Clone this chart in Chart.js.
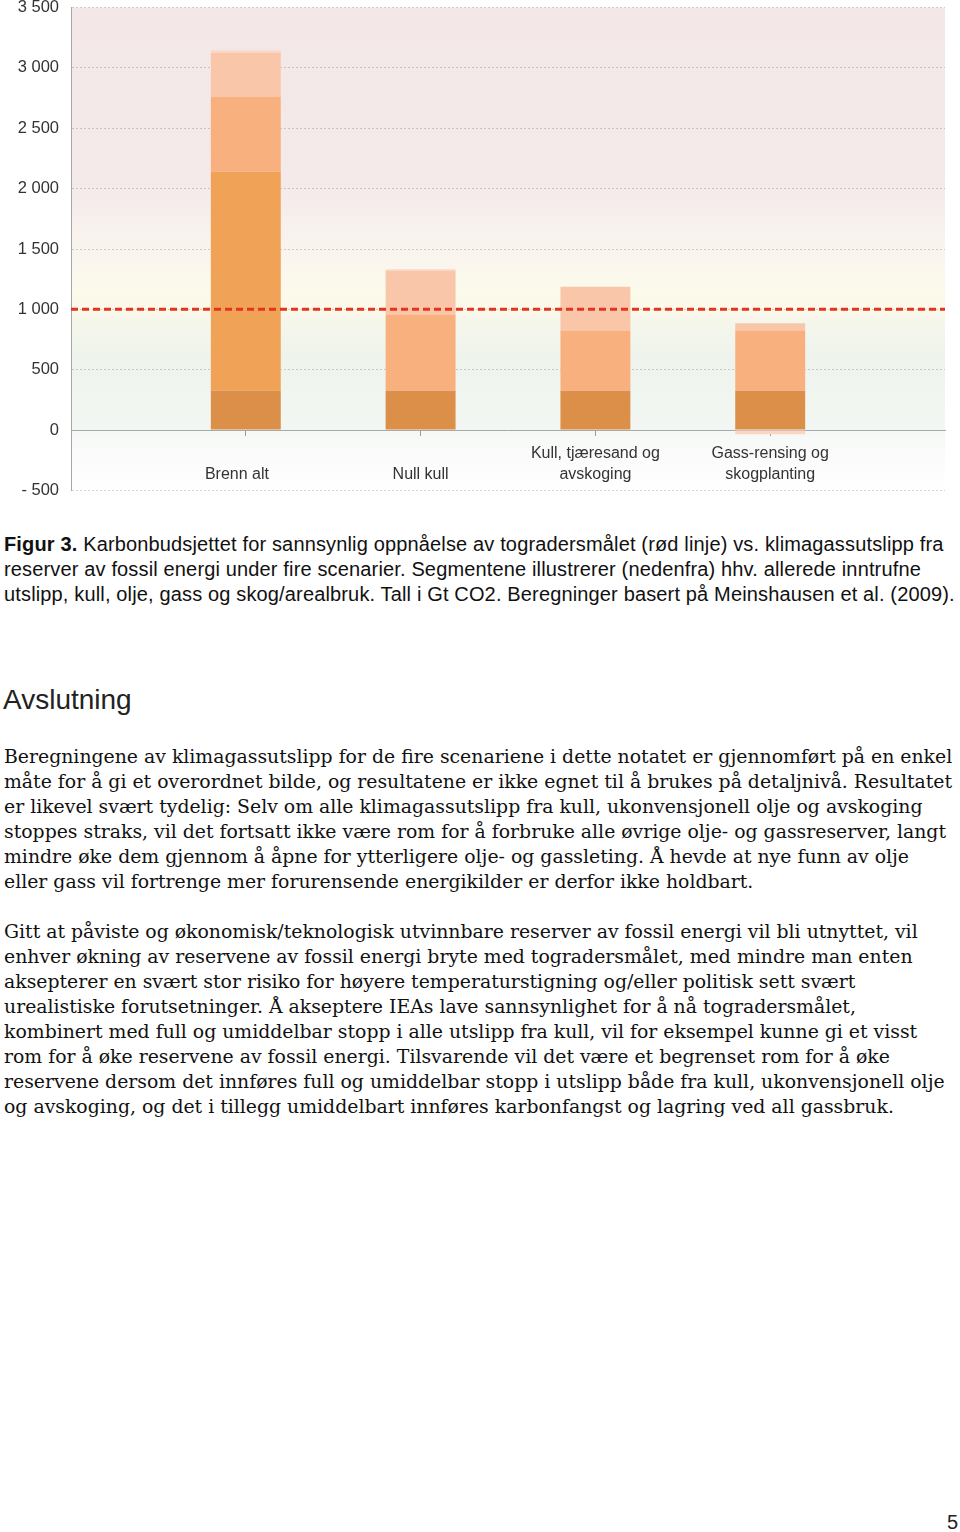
<!DOCTYPE html>
<html>
<head>
<meta charset="utf-8">
<script src="https://cdn.jsdelivr.net/npm/chart.js@4.4.1/dist/chart.umd.min.js"></script>
<style>
  body { margin: 0; background: #fff; width: 960px; height: 1532px; position: relative; overflow: hidden; }
  #chartBox { position: absolute; left: 0; top: -11px; width: 960px; height: 520px; }
  .caption { position: absolute; left: 4px; top: 532px; font: 20px/25px "Liberation Sans", Arial, sans-serif; letter-spacing: 0.15px; color: #111; white-space: nowrap; }
  .caption b { font-weight: bold; }
  h2 { position: absolute; left: 3px; top: 682px; margin: 0; font: 300 28px/36px "Liberation Sans", Arial, sans-serif; color: #222; }
  .body { position: absolute; left: 4px; font: 18.85px/25px "DejaVu Serif", Georgia, serif; color: #111; white-space: nowrap; }
  .page { position: absolute; right: 2px; top: 1511px; font: 20px "Liberation Sans", Arial, sans-serif; color: #222; }
</style>
</head>
<body>
<div id="chartBox"><canvas id="budgetChart"></canvas></div>

<div class="caption">
  <div><b>Figur 3.</b> Karbonbudsjettet for sannsynlig oppnåelse av togradersmålet (rød linje) vs. klimagassutslipp fra</div>
  <div>reserver av fossil energi under fire scenarier. Segmentene illustrerer (nedenfra) hhv. allerede inntrufne</div>
  <div>utslipp, kull, olje, gass og skog/arealbruk. Tall i Gt CO2. Beregninger basert på Meinshausen et al. (2009).</div>
</div>

<h2>Avslutning</h2>

<div class="body" style="top:744px">
  <div>Beregningene av klimagassutslipp for de fire scenariene i dette notatet er gjennomført på en enkel</div>
  <div>måte for å gi et overordnet bilde, og resultatene er ikke egnet til å brukes på detaljnivå. Resultatet</div>
  <div>er likevel svært tydelig: Selv om alle klimagassutslipp fra kull, ukonvensjonell olje og avskoging</div>
  <div>stoppes straks, vil det fortsatt ikke være rom for å forbruke alle øvrige olje- og gassreserver, langt</div>
  <div>mindre øke dem gjennom å åpne for ytterligere olje- og gassleting. Å hevde at nye funn av olje</div>
  <div>eller gass vil fortrenge mer forurensende energikilder er derfor ikke holdbart.</div>
</div>

<div class="body" style="top:919px">
  <div>Gitt at påviste og økonomisk/teknologisk utvinnbare reserver av fossil energi vil bli utnyttet, vil</div>
  <div>enhver økning av reservene av fossil energi bryte med togradersmålet, med mindre man enten</div>
  <div>aksepterer en svært stor risiko for høyere temperaturstigning og/eller politisk sett svært</div>
  <div>urealistiske forutsetninger. Å akseptere IEAs lave sannsynlighet for å nå togradersmålet,</div>
  <div>kombinert med full og umiddelbar stopp i alle utslipp fra kull, vil for eksempel kunne gi et visst</div>
  <div>rom for å øke reservene av fossil energi. Tilsvarende vil det være et begrenset rom for å øke</div>
  <div>reservene dersom det innføres full og umiddelbar stopp i utslipp både fra kull, ukonvensjonell olje</div>
  <div>og avskoging, og det i tillegg umiddelbart innføres karbonfangst og lagring ved all gassbruk.</div>
</div>

<div class="page">5</div>

<script>
// scenarios (empty slots at both ends so the bars sit at 1..4 of 0..5)
const scenarios = [
    '',
    ['', 'Brenn alt    '],
    ['', 'Null kull'],
    ['Kull, tjæresand og', 'avskoging'],
    ['Gass-rensing og', 'skogplanting'],
    ''
];

// Gt CO2, segments from the bottom up
const pastEmissions = [null, 326, 326, 326, 326, null];
const coal = [null, 1815, 0, 0, 0, null];
const oil = [null, 620, 628, 498, 498, null];
const gas = [null, 363, 363, 364, 60, null];
const forestLand = [null, 20, 15, 0, -35, null];

// carbon budget (red line)
const budget = [1000, 1000, 1000, 1000, 1000, 1000];

const yTicks = [-500, 0, 500, 1000, 1500, 2000, 2500, 3000, 3500];

function formatTick(v) {
    const s = String(Math.abs(v)).replace(/\B(?=(\d{3})+(?!\d))/g, ' ');
    return v < 0 ? '- ' + s : s;
}

const plotBackground = {
    id: 'plotBackground',
    beforeDraw(chart) {
        const { ctx, chartArea: a, scales: { y } } = chart;
        const zeroY = y.getPixelForValue(0);
        const g = ctx.createLinearGradient(0, a.top, 0, zeroY);
        g.addColorStop(0, '#f3e7e7');
        g.addColorStop(0.42, '#f4eaea');
        g.addColorStop(0.6, '#faf6ef');
        g.addColorStop(0.68, '#fcfaea');
        g.addColorStop(0.82, '#eef3ec');
        g.addColorStop(1, '#f3f7f3');
        ctx.save();
        ctx.fillStyle = g;
        ctx.fillRect(a.left, a.top, a.right - a.left, zeroY - a.top);
        const g2 = ctx.createLinearGradient(0, zeroY, 0, a.bottom);
        g2.addColorStop(0, '#f6f8f6');
        g2.addColorStop(1, '#ffffff');
        ctx.fillStyle = g2;
        ctx.fillRect(a.left, zeroY, a.right - a.left, a.bottom - zeroY);
        ctx.restore();
    }
};

document.addEventListener('DOMContentLoaded', function () {
    const ctx = document.getElementById('budgetChart');
    new Chart(ctx, {
        type: 'bar',
        data: {
            labels: scenarios,
            datasets: [
                {
                    type: 'line',
                    label: 'Karbonbudsjett',
                    data: budget,
                    borderColor: '#e5341d',
                    borderWidth: 3,
                    borderDash: [7, 4],
                    pointRadius: 0,
                    stack: 'budget',
                    order: 0
                },
                { label: 'Allerede inntrufne utslipp', data: pastEmissions, backgroundColor: '#db8f49', stack: 's', order: 1 },
                { label: 'Kull', data: coal, backgroundColor: '#f0a256', stack: 's', order: 1 },
                { label: 'Olje', data: oil, backgroundColor: '#f9b07f', stack: 's', order: 1 },
                { label: 'Gass', data: gas, backgroundColor: '#f9c6a9', stack: 's', order: 1 },
                { label: 'Skog/arealbruk', data: forestLand, backgroundColor: '#fbd6c4', stack: 's', order: 1 }
            ]
        },
        options: {
            responsive: true,
            maintainAspectRatio: false,
            animation: false,
            layout: { padding: { top: 0, right: 15, bottom: 10, left: 0 } },
            datasets: { bar: { barPercentage: 0.4, categoryPercentage: 1 } },
            plugins: {
                legend: { display: false },
                tooltip: { enabled: false }
            },
            scales: {
                x: {
                    stacked: true,
                    position: { y: 0 },
                    offset: false,
                    grid: {
                        offset: false,
                        drawOnChartArea: false,
                        tickLength: 5,
                        color: c => (c.index === 0 || c.index === scenarios.length - 1) ? 'transparent' : '#999'
                    },
                    border: { color: '#a8a8a8' },
                    ticks: {
                        padding: 8,
                        maxRotation: 0,
                        autoSkip: false,
                        color: '#333',
                        font: { family: 'Liberation Sans', size: 16, lineHeight: 1.3 }
                    },
                    afterFit: s => { s.height = 0; }
                },
                y: {
                    stacked: true,
                    min: yTicks[0],
                    max: yTicks[yTicks.length - 1],
                    afterBuildTicks: s => { s.ticks = yTicks.map(v => ({ value: v })); },
                    ticks: {
                        padding: 12,
                        color: '#333',
                        font: { family: 'Liberation Sans', size: 16.5, lineHeight: 0.8 },
                        callback: v => formatTick(v)
                    },
                    grid: {
                        drawTicks: false,
                        color: c => (c.tick && c.tick.value === 0) ? 'transparent' : 'rgba(0,0,0,0.17)'
                    },
                    border: { color: '#a8a8a8', dash: [2, 2] },
                    afterFit: s => { s.width = 71; }
                }
            }
        },
        plugins: [plotBackground]
    });
});
</script>
</body>
</html>
